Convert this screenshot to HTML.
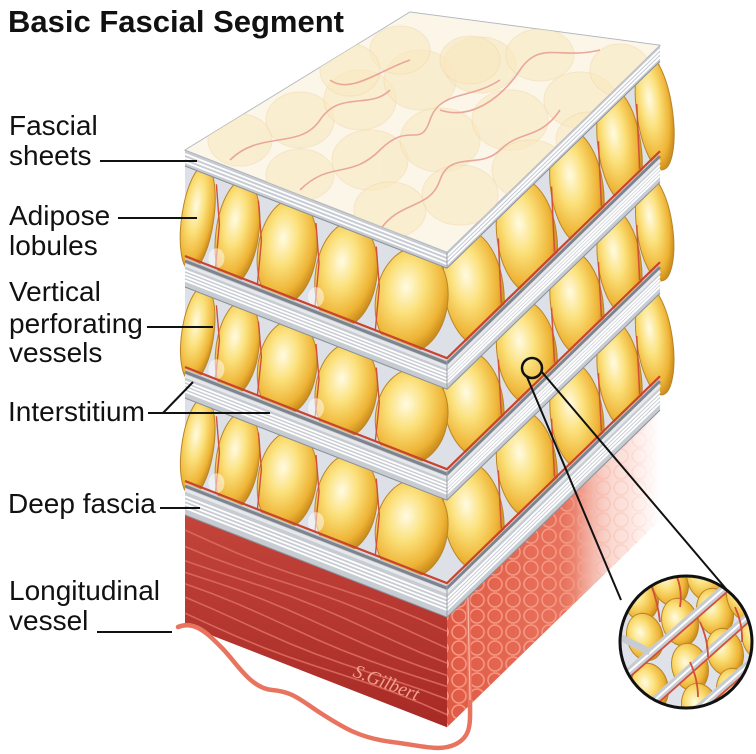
<!DOCTYPE html>
<html><head><meta charset="utf-8">
<style>
html,body{margin:0;padding:0;background:#fff;}
#wrap{position:relative;width:756px;height:754px;overflow:hidden;background:#fff;}
svg{position:absolute;left:0;top:0;}
.t{position:absolute;font-family:"Liberation Sans",Arial,sans-serif;font-size:28px;color:#111;white-space:nowrap;line-height:1;}
</style></head>
<body><div id="wrap">
<svg id="g" width="756" height="754" viewBox="0 0 756 754" xmlns="http://www.w3.org/2000/svg">
<defs>
<radialGradient id="lob" cx="0.4" cy="0.38" r="0.65">
<stop offset="0" stop-color="#fffbe2"/><stop offset="0.4" stop-color="#fbe07a"/><stop offset="0.8" stop-color="#eeb436"/><stop offset="1" stop-color="#c98a1a"/>
</radialGradient>
<linearGradient id="mfront" x1="0" y1="0" x2="0" y2="1">
<stop offset="0" stop-color="#c2443a"/><stop offset="1" stop-color="#a82a26"/>
</linearGradient>
<linearGradient id="mright" x1="447" y1="0" x2="660" y2="0" gradientUnits="userSpaceOnUse">
<stop offset="0" stop-color="#e05a45"/><stop offset="0.55" stop-color="#e8735e"/><stop offset="0.8" stop-color="#f6c9be"/><stop offset="1" stop-color="#fff" stop-opacity="0"/>
</linearGradient>
<pattern id="cells" width="18" height="16" patternUnits="userSpaceOnUse">
<circle cx="9" cy="8" r="7" fill="none" stroke="#f49a84" stroke-width="1.5"/>
</pattern>
<linearGradient id="fadeR" x1="447" y1="0" x2="660" y2="0" gradientUnits="userSpaceOnUse">
<stop offset="0" stop-color="#fff" stop-opacity="0"/><stop offset="0.6" stop-color="#fff" stop-opacity="0"/><stop offset="0.85" stop-color="#fde3dd" stop-opacity="0.8"/><stop offset="1" stop-color="#fff" stop-opacity="1"/>
</linearGradient>
<clipPath id="bigc"><circle cx="686" cy="642" r="66"/></clipPath>
</defs>
</svg>
<div class="t" style="left:8px;top:6px;font-weight:bold;font-size:31px;">Basic Fascial Segment</div>
<div class="t" style="left:9px;top:112px;">Fascial</div>
<div class="t" style="left:9px;top:142px;">sheets</div>
<div class="t" style="left:9px;top:202px;">Adipose</div>
<div class="t" style="left:9px;top:232px;">lobules</div>
<div class="t" style="left:9px;top:278px;">Vertical</div>
<div class="t" style="left:9px;top:310px;">perforating</div>
<div class="t" style="left:9px;top:339px;">vessels</div>
<div class="t" style="left:8px;top:398px;">Interstitium</div>
<div class="t" style="left:8px;top:490px;">Deep fascia</div>
<div class="t" style="left:9px;top:577px;">Longitudinal</div>
<div class="t" style="left:9px;top:607px;">vessel</div>
<svg width="756" height="754" viewBox="0 0 756 754" xmlns="http://www.w3.org/2000/svg" style="pointer-events:none">
<text x="0" y="0" transform="translate(352,676) rotate(21)" font-family="'Liberation Serif',serif" font-style="italic" font-size="19" fill="#f0a090">S.Gilbert</text>
</svg>
</div>
<script>
(function(){
var NS="http://www.w3.org/2000/svg",svg=document.getElementById('g');
function el(tag,a,p){var e=document.createElementNS(NS,tag);for(var k in a)e.setAttribute(k,a[k]);(p||svg).appendChild(e);return e;}
var slope=0.39,FW=262,DX=213,DY=-207;
function F(y,t){return [185+FW*t,y+slope*FW*t];}
function R(y,s){return [447+DX*s,y+slope*FW+DY*s];}
function pts(a){return a.map(function(p){return p[0].toFixed(1)+','+p[1].toFixed(1);}).join(' ');}
function poly(a,fill,extra){var o={points:pts(a),fill:fill};for(var k in extra)o[k]=extra[k];return el('polygon',o);}
function line(a,st,w,extra){var o={points:pts(a),fill:'none',stroke:st,'stroke-width':w};for(var k in extra)o[k]=extra[k];return el('polyline',o);}

// muscle
poly([F(515,0),F(515,1),F(625,1),F(625,0)],'url(#mfront)');
for(var i=0;i<7;i++){var y=530+i*14;var a=[];for(var t=0;t<=1.001;t+=0.1){var p=F(y+Math.sin(t*6+i)*3,t);a.push(p);}line(a,'#d8675a',1.6);}
var rf=[R(515,0),R(515,1),R(625,1),R(625,0)];
poly(rf,'url(#mright)');
poly(rf,'url(#cells)');
poly(rf,'url(#fadeR)');

// longitudinal vessel
el('path',{d:'M178,627 C195,620 208,634 222,648 S250,688 272,690 S300,700 322,714 S360,738 392,742 S440,752 456,744 S470,722 470,700 L468,600 C466,580 463,560 464,540',fill:'none',stroke:'#e8735e','stroke-width':4.5,'stroke-linecap':'round'});
el('path',{d:'M470,700 L468,600 C466,580 463,560 464,540',fill:'none',stroke:'#f8b8a8','stroke-width':1.2});

// rows
var rows=[[166,258],[287,369],[398,483]];
var fc=[0,0.12,0.28,0.5,0.73,1.0],rc=[0,0.25,0.5,0.72,0.9,1.05];
rows.forEach(function(r){
 var top=r[0],bot=r[1],h=bot-top;
 poly([F(top,0),F(top,1),F(bot,1),F(bot,0)],'#dde1e7');
 poly([R(top,0),R(top,1),R(bot,1),R(bot,0)],'#dde1e7');
 for(var i=0;i<rc.length-1;i++){
  var c=R((top+bot)/2,(rc[i]+rc[i+1])/2);
  var rx=DX*(rc[i+1]-rc[i])*0.5*1.12;
  el('ellipse',{cx:c[0],cy:c[1],rx:rx,ry:h/2+12,fill:'url(#lob)',stroke:'#b8862a','stroke-width':1,transform:'rotate(-8 '+c[0]+' '+c[1]+')'});
 }
 for(var i=1;i<rc.length-1;i++){var a=R(top+4,rc[i]),b=R(bot,rc[i]);line([[a[0]-2,a[1]+18],[b[0]+1,b[1]-5]],'#d2503a',1.5);}
 for(var i=0;i<fc.length-1;i++){
  var c=F((top+bot)/2,(fc[i]+fc[i+1])/2);
  var rx=FW*(fc[i+1]-fc[i])*0.5*1.02;
  if(i==0)c[0]-=3;
  el('ellipse',{cx:c[0],cy:c[1],rx:rx,ry:h/2+7,fill:'url(#lob)',stroke:'#b8862a','stroke-width':1,transform:'rotate(8 '+c[0]+' '+c[1]+')'});
 }
 for(var i=1;i<fc.length-1;i++){var a=F(top,fc[i]),b=F(bot,fc[i]);line([[a[0],a[1]+6],[a[0]+3,(a[1]+b[1])/2],[b[0]-1,b[1]-2]],'#d2503a',1.4);}
 for(var i=1;i<fc.length-1;i+=2){var a=F(bot-12,fc[i]);el('ellipse',{cx:a[0],cy:a[1],rx:8,ry:10,fill:'#fff',opacity:0.5});}
 line([F(bot-2,0),F(bot-2,1),R(bot-2,1)],'#c9432f',2.2);
});

// sheets
var sheets=[[150,166],[258,287],[369,398],[483,515]];
sheets.forEach(function(s,idx){
 var a=s[0],b=s[1];
 poly([F(a,0),F(a,1),F(b,1),F(b,0)],'#c7cbd2');
 poly([R(a,0),R(a,1),R(b,1),R(b,0)],'#c7cbd2');
 var n=idx==0?3:4;
 for(var k=1;k<=n;k++){var y=a+(b-a)*(idx==0?k/(n+1):(0.3+0.6*k/(n+1)));line([F(y,0),F(y,1),R(y,1)],'#ffffff',1.8);}
 if(idx>0){line([F(a+3,0),F(a+3,1),R(a+3,1)],'#7e848d',3);line([F(a+7,0),F(a+7,1),R(a+7,1)],'#e6e8ec',3);}
 line([F(b,0),F(b,1),R(b,1)],'#8a9098',1);
 line([F(a,1),F(b,1)],'#9aa0a8',1);
});

// top face
var tf=[[185,150],F(150,1),R(150,1),[410,12]];
poly(tf,'#fbf2df',{stroke:'#a9adb5','stroke-width':1});
var cp=el('clipPath',{id:'tfc'},svg.querySelector('defs'));
el('polygon',{points:pts(tf)},cp);
var gtop=el('g',{'clip-path':'url(#tfc)'});
var blobs=[[240,140,32,26],[300,120,34,28],[360,100,36,30],[420,80,36,30],[480,65,36,28],[540,55,34,26],[300,175,34,26],[370,160,38,30],[440,140,40,32],[510,120,38,30],[580,100,36,28],[620,70,30,26],[390,210,36,28],[460,195,38,30],[530,170,38,30],[590,140,34,28],[470,60,30,24],[400,50,30,24],[350,70,30,26]];
blobs.forEach(function(b){el('ellipse',{cx:b[0],cy:b[1],rx:b[2],ry:b[3],fill:'#f6dfa6',opacity:0.6,stroke:'#edc98a','stroke-width':1},gtop);});
el('rect',{x:180,y:0,width:500,height:260,fill:'#fff',opacity:0.3},gtop);
var vs=['M230,160 C260,130 300,150 320,120 S370,110 390,90','M300,190 C330,160 350,180 380,150 S420,150 430,120 S470,100 500,80','M380,230 C400,200 430,210 440,180 S480,170 500,150 S540,140 560,110','M440,110 C470,120 500,100 520,70 S560,60 600,50','M480,240 C500,210 530,220 540,190 S580,170 610,150','M330,80 C350,95 380,70 410,60'];
vs.forEach(function(d){el('path',{d:d,fill:'none',stroke:'#e9a79a','stroke-width':1.6},gtop);});

function L(x1,y1,x2,y2){el('line',{x1:x1,y1:y1,x2:x2,y2:y2,stroke:'#111','stroke-width':2});}
L(100,161,197,161);L(118,218,197,218);L(147,327,213,327);L(148,413,270,413);L(163,413,193,382);L(160,508,200,508);L(97,632,172,632);

L(527,377,621,600);L(541,371,744,610);
el('circle',{cx:532,cy:368,r:10,fill:'none',stroke:'#111','stroke-width':2.5});
var gc=el('g',{'clip-path':'url(#bigc)'});
el('rect',{x:610,y:565,width:160,height:160,fill:'#dfe2e8'},gc);
var lobs=[[640,597],[670,582],[705,577],[645,637],[680,622],[715,612],[745,597],[650,687],[690,667],[725,652],[760,637],[700,707],[735,692]];
lobs.forEach(function(p){el('ellipse',{cx:p[0],cy:p[1],rx:18,ry:24,fill:'url(#lob)',stroke:'#b8862a','stroke-width':1,transform:'rotate(-15 '+p[0]+' '+p[1]+')'},gc);});
[[600,697,760,557],[630,722,770,597],[660,742,780,637]].forEach(function(l){
 el('line',{x1:l[0],y1:l[1],x2:l[2],y2:l[3],stroke:'#c7cbd2','stroke-width':8},gc);
 el('line',{x1:l[0],y1:l[1],x2:l[2],y2:l[3],stroke:'#fff','stroke-width':2},gc);
 el('line',{x1:l[0],y1:l[1]+6,x2:l[2],y2:l[3]+6,stroke:'#d2503a','stroke-width':1.8},gc);
});
el('line',{x1:620,y1:637,x2:650,y2:652,stroke:'#c7cbd2','stroke-width':7},gc);
[[650,582,660,622],[675,572,680,607],[700,622,708,657],[735,607,742,642],[690,662,698,697]].forEach(function(l){el('path',{d:'M'+l[0]+','+l[1]+' Q'+(l[0]+8)+','+((l[1]+l[3])/2)+' '+l[2]+','+l[3],fill:'none',stroke:'#d2503a','stroke-width':1.8},gc);});
el('circle',{cx:686,cy:642,r:66,fill:'none',stroke:'#111','stroke-width':3});
})();
</script>
</body></html>
